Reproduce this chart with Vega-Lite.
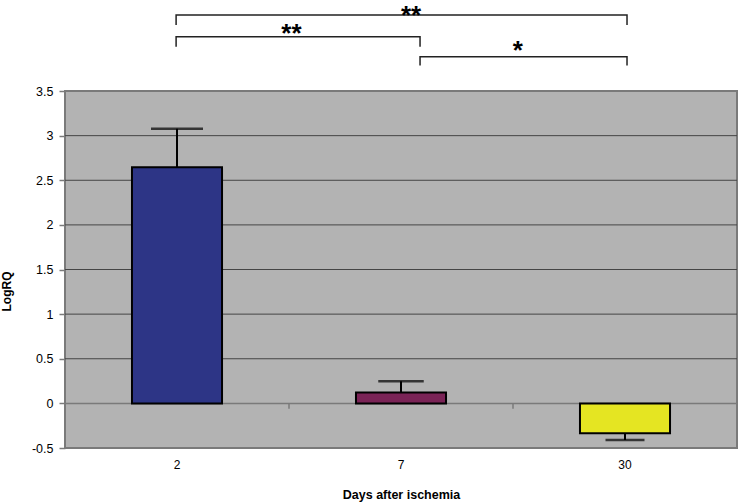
{
  "$schema": "https://vega.github.io/schema/vega-lite/v6.json",
  "width": 672,
  "height": 448,
  "autosize": "none",
  "padding": {"left": 65, "top": 0, "right": 1, "bottom": 56},
  "background": "white",
  "config": {"view": {"stroke": null}, "font": "Liberation Sans"},
  "datasets": {
    "bars": [
      {"day": "2", "value": 2.646, "err": 3.078},
      {"day": "7", "value": 0.123, "err": 0.247},
      {"day": "30", "value": -0.336, "err": -0.41}
    ],
    "grid": [{"v": 0.5}, {"v": 1}, {"v": 1.5}, {"v": 2}, {"v": 2.5}, {"v": 3}],
    "xticks": [{"t": 1}, {"t": 2}],
    "brackets": [
      {"b": "A", "o": 1, "x": 0.496, "y": 4.24},
      {"b": "A", "o": 2, "x": 0.496, "y": 4.352},
      {"b": "A", "o": 3, "x": 2.509, "y": 4.352},
      {"b": "A", "o": 4, "x": 2.509, "y": 4.24},
      {"b": "B", "o": 1, "x": 0.496, "y": 3.997},
      {"b": "B", "o": 2, "x": 0.496, "y": 4.109},
      {"b": "B", "o": 3, "x": 1.585, "y": 4.109},
      {"b": "B", "o": 4, "x": 1.585, "y": 3.997},
      {"b": "C", "o": 1, "x": 1.585, "y": 3.786},
      {"b": "C", "o": 2, "x": 1.585, "y": 3.885},
      {"b": "C", "o": 3, "x": 2.509, "y": 3.885},
      {"b": "C", "o": 4, "x": 2.509, "y": 3.786}
    ],
    "stars": [
      {"label": "**", "x": 1.545, "y": 4.488},
      {"label": "**", "x": 1.011, "y": 4.284},
      {"label": "*", "x": 2.022, "y": 4.093}
    ]
  },
  "resolve": {"scale": {"x": "independent"}, "axis": {"x": "independent"}},
  "layer": [
    {
      "layer": [
        {
          "data": {"values": [{}]},
          "mark": {"type": "rect", "fill": "#b3b3b3", "stroke": "#7a7a7a", "strokeWidth": 2},
          "encoding": {
            "x": {"datum": 0, "type": "quantitative", "scale": {"domain": [0, 3], "nice": false, "zero": false}, "axis": null},
            "x2": {"datum": 3},
            "y": {"datum": -0.5, "type": "quantitative", "scale": {"domain": [-0.5, 4.52], "nice": false, "zero": false}},
            "y2": {"datum": 3.5}
          }
        },
        {
          "data": {"name": "grid"},
          "mark": {"type": "rule", "color": "#454545", "strokeWidth": 1},
          "encoding": {
            "x": {"datum": 0, "type": "quantitative", "scale": {"domain": [0, 3], "nice": false, "zero": false}, "axis": null},
            "x2": {"datum": 3},
            "y": {"field": "v", "type": "quantitative", "scale": {"domain": [-0.5, 4.52], "nice": false, "zero": false}}
          }
        },
        {
          "data": {"values": [{}]},
          "mark": {"type": "rule", "color": "#7a7a7a", "strokeWidth": 1.5},
          "encoding": {
            "x": {"datum": 0, "type": "quantitative", "scale": {"domain": [0, 3], "nice": false, "zero": false}, "axis": null},
            "x2": {"datum": 3},
            "y": {"datum": 0, "type": "quantitative", "scale": {"domain": [-0.5, 4.52], "nice": false, "zero": false}}
          }
        },
        {
          "data": {"name": "xticks"},
          "mark": {"type": "rule", "color": "#7a7a7a", "strokeWidth": 1.5},
          "encoding": {
            "x": {"field": "t", "type": "quantitative", "scale": {"domain": [0, 3], "nice": false, "zero": false}, "axis": null},
            "y": {"datum": 0, "type": "quantitative", "scale": {"domain": [-0.5, 4.52], "nice": false, "zero": false}},
            "y2": {"datum": -0.06}
          }
        },
        {
          "data": {"name": "brackets"},
          "mark": {"type": "line", "color": "#222222", "strokeWidth": 1.5, "interpolate": "linear"},
          "encoding": {
            "x": {"field": "x", "type": "quantitative", "scale": {"domain": [0, 3], "nice": false, "zero": false}, "axis": null},
            "y": {"field": "y", "type": "quantitative", "scale": {"domain": [-0.5, 4.52], "nice": false, "zero": false}},
            "detail": {"field": "b"},
            "order": {"field": "o", "type": "quantitative"}
          }
        },
        {
          "data": {"name": "stars"},
          "mark": {"type": "text", "fontSize": 26, "fontWeight": "bold", "align": "center", "baseline": "top", "color": "black", "font": "Liberation Sans"},
          "encoding": {
            "x": {"field": "x", "type": "quantitative", "scale": {"domain": [0, 3], "nice": false, "zero": false}, "axis": null},
            "y": {"field": "y", "type": "quantitative", "scale": {"domain": [-0.5, 4.52], "nice": false, "zero": false}},
            "text": {"field": "label"}
          }
        }
      ]
    },
    {
      "data": {"name": "bars"},
      "layer": [
        {
          "mark": {"type": "bar", "stroke": "black", "strokeWidth": 2},
          "encoding": {
            "x": {
              "field": "day", "type": "nominal", "sort": ["2", "7", "30"],
              "scale": {"domain": ["2", "7", "30"], "paddingInner": 0.598, "paddingOuter": 0.299},
              "axis": {"orient": "bottom", "ticks": false, "domain": false, "labelAngle": 0, "labelFontSize": 12, "labelPadding": 11.5, "labelColor": "black", "title": "Days after ischemia", "titleFontSize": 12.5, "titleFontWeight": "bold", "titleColor": "black", "titlePadding": 18}
            },
            "y": {
              "field": "value", "type": "quantitative",
              "scale": {"domain": [-0.5, 4.52], "nice": false, "zero": false},
              "axis": {"values": [-0.5, 0, 0.5, 1, 1.5, 2, 2.5, 3, 3.5], "grid": false, "domain": false, "tickColor": "#7a7a7a", "tickSize": 6, "tickWidth": 1.5, "labelFontSize": 12.5, "labelColor": "black", "labelPadding": 6, "labelExpr": "toString(datum.value)", "title": "LogRQ", "titleFontSize": 12, "titleFontWeight": "bold", "titleColor": "black", "titleX": -59, "titleY": 291, "titleAngle": -90, "titleAlign": "center", "titleBaseline": "middle"}
            },
            "color": {"field": "day", "type": "nominal", "scale": {"domain": ["2", "7", "30"], "range": ["#2d3586", "#7a2356", "#e5e522"]}, "legend": null}
          }
        },
        {
          "mark": {"type": "rule", "color": "black", "strokeWidth": 2},
          "encoding": {
            "x": {"field": "day", "type": "nominal", "sort": ["2", "7", "30"], "scale": {"domain": ["2", "7", "30"], "paddingInner": 0.598, "paddingOuter": 0.299}},
            "y": {"field": "value", "type": "quantitative", "scale": {"domain": [-0.5, 4.52], "nice": false, "zero": false}},
            "y2": {"field": "err"}
          }
        },
        {
          "mark": {"type": "tick", "color": "black", "thickness": 2.5},
          "encoding": {
            "x": {"field": "day", "type": "nominal", "sort": ["2", "7", "30"], "scale": {"domain": ["2", "7", "30"], "paddingInner": 0.598, "paddingOuter": 0.299}},
            "y": {"field": "err", "type": "quantitative", "scale": {"domain": [-0.5, 4.52], "nice": false, "zero": false}},
            "size": {"field": "day", "type": "ordinal", "scale": {"domain": ["2", "7", "30"], "range": [52, 39, 39]}, "legend": null}
          }
        }
      ]
    }
  ]
}
